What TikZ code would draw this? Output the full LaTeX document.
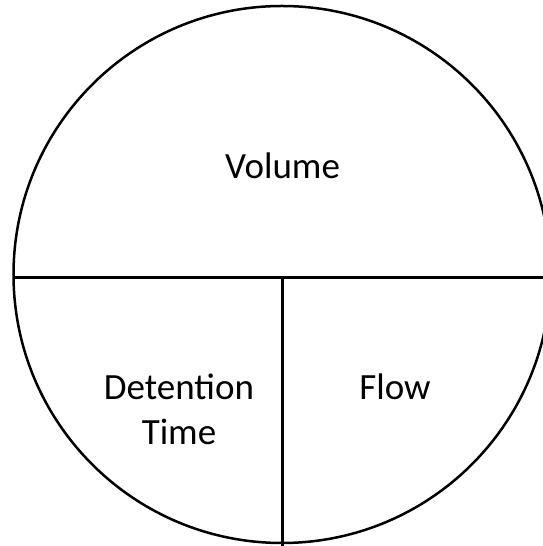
\documentclass[tikz,border=0pt]{standalone}
\usepackage{fontspec}
\setmainfont{Carlito}
\begin{document}
\begin{tikzpicture}[x=1pt,y=1pt,
  pie/.style={draw=black, line width=2.5pt},
  lbl/.style={inner sep=0pt, anchor=base, font=\fontsize{37}{45}\selectfont}]
\useasboundingbox (0,0) rectangle (543,546);
\node[circle, pie, minimum size=537pt, inner sep=0pt] (c) at (282,271.5) {};
\coordinate (hl) at (13.5,268.3);
\coordinate (hr) at (543,268.3);
\coordinate (vt) at (282.3,268.3);
\coordinate (vb) at (282.3,0);
\draw[pie] (hl) -- (hr);
\draw[pie] (vt) -- (vb);
\node[lbl] (vol) at (282.5,367.7) {Volume};
\node[lbl] (det) at (179,146) {Detention};
\node[lbl] (tim) at (179,101) {Time};
\node[lbl] (flo) at (395,146) {Flow};
\end{tikzpicture}
\end{document}
